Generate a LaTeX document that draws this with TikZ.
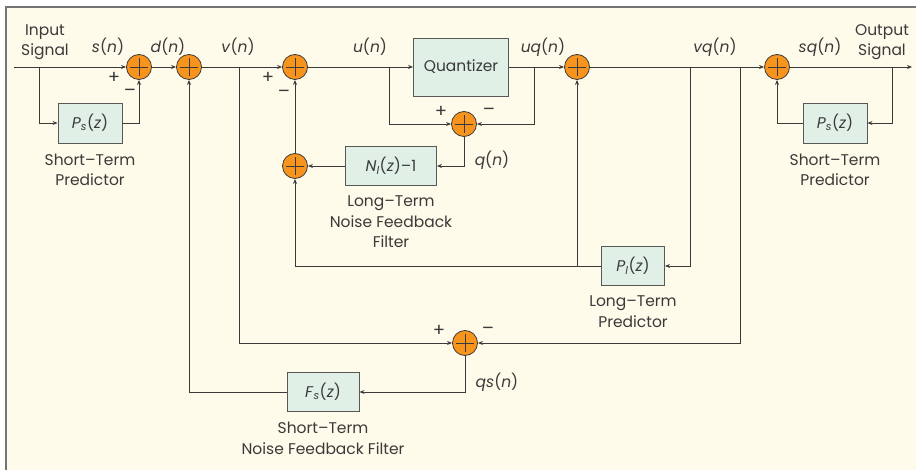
\documentclass[tikz,border=0pt]{standalone}
\usepackage{fontspec}
\setmainfont{Poppins}
\usetikzlibrary{positioning,arrows.meta}

\definecolor{paper}{HTML}{FFFBEA}
\definecolor{sumfill}{HTML}{F7941E}
\definecolor{boxfill}{HTML}{E1F0E6}
\definecolor{ink}{HTML}{3A3A3A}

\newcommand{\sig}[1]{\textit{#1}}

\begin{document}
\begin{tikzpicture}[
  x=1pt, y=-1pt,
  >={Stealth[length=5pt,width=4pt]},
  font=\fontsize{15.5}{20.5}\selectfont, text=ink,
  block/.style={draw=ink!85, fill=boxfill, line width=0.9pt, inner sep=0pt, align=center},
  sum/.style={circle, draw=ink, fill=sumfill, line width=0.8pt, minimum size=25pt, inner sep=0pt,
    path picture={\draw[ink, line width=0.8pt]
      (path picture bounding box.center) ++(-9pt,0pt) -- ++(18pt,0pt)
      (path picture bounding box.center) ++(0pt,-9pt) -- ++(0pt,18pt);}},
  edge/.style={->, draw=ink, line width=0.9pt},
  lbl/.style={inner sep=0pt, align=center},
  sgn/.style={inner sep=0pt, font=\fontsize{18}{18}\selectfont},
  blockcap/.style={inner sep=0pt, align=center, below=10pt of #1}
]
  \useasboundingbox (0,0) rectangle (916,470);
  \fill[white] (0,0) rectangle (916,470);
  \fill[paper] (6,7) rectangle (916,470);
  \draw[ink!70, line width=1.2pt] (6,470) -- (6,7) -- (916,7);

  % main path
  \coordinate (in) at (14,67);
  \coordinate (tapIn) at (39,67);
  \node[sum] (sA) at (139,67) {};
  \node[sum] (sB) at (189,67) {};
  \coordinate (tapV) at (239,67);
  \node[sum] (sC) at (295,67) {};
  \coordinate (tapU) at (389,67);
  \node[block, minimum width=95pt, minimum height=58pt] (quant) at (461,67) {Quantizer};
  \coordinate (tapUq) at (534,67);
  \node[sum] (sD) at (577,67) {};
  \coordinate (tapVq) at (690,67);
  \coordinate (tapVqs) at (740,67);
  \node[sum] (sE) at (777,67) {};
  \coordinate (tapOut) at (892,67);
  \coordinate (out) at (912,67);

  % blocks and inner sums
  \node[block, minimum width=64pt, minimum height=40pt] (psIn) at (90,123) {\sig{P}\textsubscript{\sig{s}}(\sig{z})};
  \node[sum] (sQ) at (464,124) {};
  \node[block, minimum width=91pt, minimum height=39pt] (nl) at (391,166) {\sig{N}\textsubscript{\sig{l}}(\sig{z})\textendash1};
  \node[sum] (sF) at (295,166) {};
  \node[block, minimum width=63pt, minimum height=39pt] (pl) at (633,266) {\sig{P}\textsubscript{\sig{l}}(\sig{z})};
  \coordinate (tapPl) at (577,266);
  \node[sum] (sG) at (465,343) {};
  \node[block, minimum width=72pt, minimum height=39pt] (fs) at (323,392) {\sig{F}\textsubscript{\sig{s}}(\sig{z})};
  \node[block, minimum width=64pt, minimum height=40pt] (psOut) at (835,123) {\sig{P}\textsubscript{\sig{s}}(\sig{z})};

  % captions
  \node[blockcap=psIn] {Short\textendash Term\\Predictor};
  \node[blockcap=nl] {Long\textendash Term\\Noise Feedback\\Filter};
  \node[blockcap=pl] {Long\textendash Term\\Predictor};
  \node[blockcap=fs] {Short\textendash Term\\Noise Feedback Filter};
  \node[blockcap=psOut] {Short\textendash Term\\Predictor};

  % signal labels
  \node[lbl] at (45,42) {Input\\Signal};
  \node[lbl] at (108,47) {\sig{s}(\sig{n})};
  \node[lbl] at (168,47) {\sig{d}(\sig{n})};
  \node[lbl] at (238,47) {\sig{v}(\sig{n})};
  \node[lbl] at (370,47) {\sig{u}(\sig{n})};
  \node[lbl] at (543,47) {\sig{uq}(\sig{n})};
  \node[lbl] at (715,47) {\sig{vq}(\sig{n})};
  \node[lbl] at (820,47) {\sig{sq}(\sig{n})};
  \node[lbl] at (882,42) {Output\\Signal};
  \node[lbl] at (492,160) {\sig{q}(\sig{n})};
  \node[lbl] at (497,382) {\sig{qs}(\sig{n})};

  % signs
  \node[sgn] at (114,78) {+};
  \node[sgn] at (130,93) {\textendash};
  \node[sgn] at (268,78) {+};
  \node[sgn] at (284,94) {\textendash};
  \node[sgn] at (441,112) {+};
  \node[sgn] at (489,112) {\textendash};
  \node[sgn] at (439,331) {+};
  \node[sgn] at (488,331) {\textendash};

  % connectors
  \draw[edge] (in) -- (sA);
  \draw[edge] (tapIn) |- (psIn);
  \draw[edge] (psIn.east) -| (sA.south);
  \draw[edge] (sA) -- (sB);
  \draw[edge] (sB) -- (sC);
  \draw[edge] (sC) -- (quant);
  \draw[edge] (tapU) |- (sQ.west);
  \draw[edge] (quant) -- (sD);
  \draw[edge] (tapUq) |- (sQ.east);
  \draw[edge] (sQ.south) |- (nl.east);
  \draw[edge] (nl) -- (sF);
  \draw[edge] (sF) -- (sC);
  \draw[edge] (sD) -- (sE);
  \draw[edge] (tapVq) |- (pl.east);
  \draw[edge] (pl.west) -| (sF.south);
  \draw[edge] (tapPl) -- (sD.south);
  \draw[edge] (tapVqs) |- (sG.east);
  \draw[edge] (tapV) |- (sG.west);
  \draw[edge] (sG.south) |- (fs.east);
  \draw[edge] (fs.west) -| (sB.south);
  \draw[edge] (sE) -- (out);
  \draw[edge] (tapOut) |- (psOut.east);
  \draw[edge] (psOut.west) -| (sE.south);
\end{tikzpicture}
\end{document}
